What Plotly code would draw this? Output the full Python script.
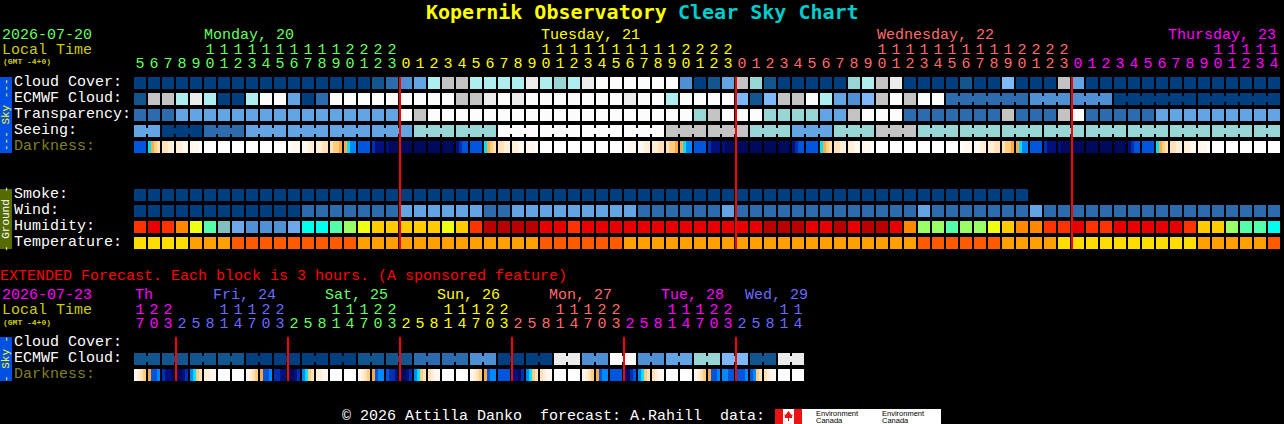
import plotly.graph_objects as go

# ---- chart values ----
DAY_LABELS = ["Monday, 20", "Tuesday, 21", "Wednesday, 22", "Thursday, 23"]
HOURS = [5, 6, 7, 8, 9, 10, 11, 12, 13, 14, 15, 16, 17, 18, 19, 20, 21, 22, 23,
         0, 1, 2, 3, 4, 5, 6, 7, 8, 9, 10, 11, 12, 13, 14, 15, 16, 17, 18, 19, 20, 21, 22, 23,
         0, 1, 2, 3, 4, 5, 6, 7, 8, 9, 10, 11, 12, 13, 14, 15, 16, 17, 18, 19, 20, 21, 22, 23,
         0, 1, 2, 3, 4, 5, 6, 7, 8, 9, 10, 11, 12, 13, 14]
DAY_OF_HOUR = [0] * 19 + [1] * 24 + [2] * 24 + [3] * 15

# cover in tenths, 0 = clear, 10 = overcast
CLOUD_COVER = [0, 0, 0, 0, 0, 0, 0, 0, 0, 0, 0, 0, 0, 0, 0, 0, 0, 1, 2,
               3, 4, 6, 8, 8, 6, 6, 6, 6, 9, 6, 7, 6, 9, 10, 10, 10, 10, 10, 10, 3, 0, 1, 4,
               8, 7, 1, 0, 0, 0, 0, 0, 7, 6, 8, 9, 0, 0, 0, 0, 1, 0, 0, 5, 0, 0, 0, 8,
               4, 0, 0, 0, 0, 0, 0, 0, 0, 0, 0, 0, 0, 0, 0]
ECMWF_HOURLY = [1, 8, 8, 6, 9, 6, 0, 0, 6, 10, 10, 4, 0, 2, 10, 10, 10, 10, 10,
                10, 10, 10, 10, 8, 8, 9, 10, 9, 10, 10, 10, 10, 10, 10, 10, 9, 10, 10, 6, 10, 10, 10, 10,
                5, 1, 5, 8, 8, 10, 6, 4, 3, 5, 8, 10, 8, 10, 10]
ECMWF_SPANS = [6, 3, 3, 6, 6]
ECMWF_SPAN_VALUES = [2, 3, 3, 0, 0]
TRANSPARENCY = [2, 2, 2, 4, 4, 4, 4, 4, 4, 4, 4, 4, 4, 4, 4, 4, 4, 4, 4,
                10, 8, 10, 10, 10, 10, 10, 10, 10, 10, 10, 10, 10, 10, 10, 10, 10, 10, 10, 10, 10, 7, 8, 10,
                10, 10, 7, 7, 7, 7, 4, 4, 8, 10, 10, 10, 2, 2, 2, 2, 2, 2, 2, 8, 2, 2, 2, 8,
                10, 2, 2, 2, 2, 2, 4, 4, 4, 4, 4, 4, 4, 4, 4]
SEEING_SPANS = [2, 3, 3, 3, 3, 3, 3, 3, 3, 3, 3, 3, 3, 3, 3, 3, 3, 3, 3, 3, 3, 3, 3, 3, 3, 3, 3, 2]
SEEING_VALUES = [4, 0, 2, 4, 4, 4, 4, 7, 7, 10, 10, 10, 10, 8, 8, 7, 4, 7, 8, 7, 7, 7, 7, 7, 7, 7, 7, 7]
SMOKE = [0] * 64
WIND = [0, 0, 0, 0, 0, 0, 0, 0, 0, 0, 0, 0, 2, 2, 2, 2, 2, 2, 2,
        4, 4, 4, 4, 4, 4, 2, 2, 4, 4, 4, 4, 4, 4, 4, 4, 4, 2, 2, 2, 2, 2, 2, 4,
        2, 2, 2, 2, 2, 2, 2, 2, 2, 2, 2, 2, 2, 4, 2, 2, 2, 2, 2, 2, 2, 4, 2, 2,
        2, 2, 2, 2, 2, 2, 2, 2, 2, 2, 2, 2, 2, 2, 2]
# humidity percent
HUMIDITY = [85, 90, 85, 80, 60, 50, 40, 30, 25, 25, 25, 30, 45, 45, 50, 55, 60, 70, 70,
            70, 70, 70, 60, 70, 85, 95, 95, 95, 95, 90, 90, 85, 90, 90, 90, 90, 90, 90, 90, 90, 90, 90, 90,
            90, 90, 95, 95, 95, 90, 90, 95, 90, 95, 95, 90, 80, 55, 55, 50, 55, 55, 60, 70, 80,
            80, 85, 85, 90, 85, 85, 90, 90, 90, 90, 90, 85, 70, 70, 55, 50, 50, 45]
# temperature in degrees C
TEMPERATURE = [16, 16, 16, 16, 19, 19, 19, 21, 21, 21, 21, 21, 21, 21, 21, 21, 19, 19, 19,
               19, 19, 19, 19, 19, 19, 19, 19, 19, 19, 21, 21, 21, 21, 21, 21, 19, 19, 19, 19, 19, 19, 19, 19,
               19, 19, 19, 19, 19, 19, 19, 19, 19, 19, 19, 19, 19, 21, 21, 21, 21, 21, 21, 19, 19,
               19, 19, 16, 16, 16, 16, 16, 16, 16, 16, 16, 16, 19, 19, 19, 19, 19, 21]
# 0 white noon ... 11 darkest night, four readings across each block
DARKNESS = [
    [8, 8, 8, 8], [6, 5, 4, 3], [3, 3, 2, 2], [2, 2, 1, 1], [1, 1, 1, 0], [0, 0, 0, 0], [0, 0, 0, 0],
    [0, 0, 0, 0], [0, 0, 0, 0], [0, 0, 0, 0], [0, 0, 0, 0], [0, 1, 1, 1], [1, 1, 2, 2], [2, 2, 3, 3],
    [3, 4, 4, 5], [5, 6, 7, 7], [8, 8, 8, 8], [9, 10, 10, 10], [10, 11, 11, 11],
    [11, 11, 11, 11], [11, 11, 11, 11], [11, 11, 11, 11], [11, 11, 11, 11], [10, 9, 8, 8], [8, 8, 8, 8],
    [6, 5, 4, 3], [3, 3, 2, 2], [2, 2, 1, 1], [1, 1, 1, 0], [0, 0, 0, 0], [0, 0, 0, 0], [0, 0, 0, 0],
    [0, 0, 0, 0], [0, 0, 0, 0], [0, 0, 0, 0], [0, 1, 1, 1], [1, 1, 2, 2], [2, 2, 3, 3], [3, 4, 4, 5],
    [5, 6, 7, 7], [8, 8, 8, 8], [9, 10, 10, 10], [10, 11, 11, 11],
    [11, 11, 11, 11], [11, 11, 11, 11], [11, 11, 11, 11], [11, 11, 11, 11], [10, 9, 8, 8], [8, 8, 8, 8],
    [6, 5, 4, 3], [3, 3, 2, 2], [2, 2, 1, 1], [1, 1, 1, 0], [0, 0, 0, 0], [0, 0, 0, 0], [0, 0, 0, 0],
    [0, 0, 0, 0], [0, 0, 0, 0], [0, 0, 0, 0], [0, 1, 1, 1], [1, 1, 2, 2], [2, 2, 3, 3], [3, 4, 4, 5],
    [5, 6, 7, 7], [8, 8, 8, 8], [9, 10, 10, 10], [10, 11, 11, 11],
    [11, 11, 11, 11], [11, 11, 11, 11], [11, 11, 11, 11], [11, 11, 11, 11], [10, 9, 8, 8], [8, 8, 8, 8],
    [6, 5, 4, 3], [3, 3, 2, 2], [2, 2, 1, 1], [1, 1, 1, 0], [0, 0, 0, 0], [0, 0, 0, 0], [0, 0, 0, 0],
    [0, 0, 0, 0], [0, 0, 0, 0],
]
MIDNIGHTS = [19, 43, 67]

# extended forecast, one block is 3 hours
EXT_DAY_LABELS = ["Th", "Fri, 24", "Sat, 25", "Sun, 26", "Mon, 27", "Tue, 28", "Wed, 29"]
EXT_HOURS = [17, 20, 23,
             2, 5, 8, 11, 14, 17, 20, 23,
             2, 5, 8, 11, 14, 17, 20, 23,
             2, 5, 8, 11, 14, 17, 20, 23,
             2, 5, 8, 11, 14, 17, 20, 23,
             2, 5, 8, 11, 14, 17, 20, 23,
             2, 5, 8, 11, 14]
EXT_DAY_OF_HOUR = [0] * 3 + [1] * 8 + [2] * 8 + [3] * 8 + [4] * 8 + [5] * 8 + [6] * 5
EXT_ECMWF_SPANS = [2] * 24
EXT_ECMWF_VALUES = [1, 1, 1, 1, 0, 0, 0, 0, 1, 1, 2, 2, 3, 0, 0, 9, 3, 10, 3, 4, 7, 5, 1, 9]
EXT_DARKNESS = [
    [1, 2, 3, 4], [5, 8, 8, 7], [9, 10, 10, 11], [11, 11, 10, 9], [7, 6, 4, 3], [2, 2, 1, 1], [0, 0, 0, 0], [0, 0, 0, 0],
    [1, 2, 3, 4], [5, 8, 8, 7], [9, 9, 10, 10], [11, 11, 10, 9], [7, 6, 4, 3], [2, 2, 1, 1], [0, 0, 0, 0], [0, 0, 0, 0],
    [1, 2, 3, 4], [5, 8, 7, 7], [8, 9, 9, 10], [11, 11, 10, 9], [7, 6, 4, 3], [3, 2, 1, 1], [0, 0, 0, 0], [0, 0, 0, 0],
    [1, 2, 3, 4], [5, 8, 7, 7], [8, 8, 8, 8], [10, 10, 11, 9], [7, 6, 4, 3], [3, 2, 1, 1], [0, 0, 0, 0], [0, 0, 0, 0],
    [1, 2, 3, 4], [5, 8, 7, 7], [8, 8, 8, 8], [10, 11, 9, 8], [7, 6, 4, 3], [3, 2, 1, 1], [0, 0, 0, 0], [0, 0, 0, 0],
    [1, 2, 3, 4], [5, 8, 8, 7], [7, 7, 8, 8], [8, 8, 8, 7], [8, 7, 4, 3], [3, 2, 1, 1], [0, 0, 0, 0], [0, 0, 0, 0],
]
EXT_MIDNIGHTS = [3, 11, 19, 27, 35, 43]

# ---- colours and geometry ----
W, H = 1284, 424
PITCH = 14.0
BLOCK = 12.0
LEFT = 134.0
MONO = "Liberation Mono"
TITLE_FONT = "DejaVu Sans Mono"

SKY_COLORS = {0: "#003F7F", 1: "#13558F", 2: "#2C6CAE", 3: "#4F8FD3", 4: "#63A4E5", 5: "#7DB8FB",
              6: "#AFEEEE", 7: "#98D6D6", 8: "#C3C3C3", 9: "#EBEBEB", 10: "#FCFCFC"}
HUMIDITY_COLORS = {25: "#5090D5", 30: "#6FA8E8", 40: "#80BFBF", 45: "#00FFEE", 50: "#55FFAA", 55: "#99FF66",
                   60: "#EEFF11", 70: "#FFCC00", 80: "#FF8800", 85: "#FF3300", 90: "#E80000", 95: "#B80000"}
TEMP_COLORS = {16: "#FFDD00", 19: "#FF9F00", 21: "#FF5A00"}
DARK_COLORS = {0: "#FFFFFF", 1: "#FFF8EE", 2: "#FFEFD8", 3: "#FFE2B8", 4: "#FFCC80", 5: "#FFAA44",
               6: "#00E0FF", 7: "#0088FF", 8: "#0055DD", 9: "#0030B0", 10: "#00107F", 11: "#000A5C"}
DAY_COLORS = ["#66FF66", "#FFFF00", "#FF6B6B", "#FF00FF"]
EXT_DAY_COLORS = ["#FF00FF", "#6A6AFF", "#66FF66", "#FFFF00", "#FF6B6B", "#FF00FF", "#6A6AFF"]

fig = go.Figure()


def add_blocks(values, palette, top, start=0):
    xs = [start + i + BLOCK / PITCH / 2 for i in range(len(values))]
    fig.add_trace(go.Bar(x=xs, y=[BLOCK] * len(values), base=[top] * len(values), width=BLOCK / PITCH,
                         marker=dict(color=[palette[v] for v in values], line_width=0)))


def add_spans(spans, values, palette, top, start=0):
    """Blocks that belong together get a small bridge over the gap."""
    cell_vals = []
    bridge_x, bridge_c = [], []
    pos = start
    for n, v in zip(spans, values):
        cell_vals += [v] * n
        for k in range(1, n):
            bridge_x.append(pos + k - 1 / PITCH)
            bridge_c.append(palette[v])
        pos += n
    add_blocks(cell_vals, palette, top, start)
    fig.add_trace(go.Bar(x=bridge_x, y=[6] * len(bridge_x), base=[top + 3] * len(bridge_x), width=2 / PITCH,
                         marker=dict(color=bridge_c, line_width=0)))


def add_darkness(blocks, top):
    xs, cs = [], []
    for i, block in enumerate(blocks):
        for j, level in enumerate(block):
            xs.append(i + (j + 0.5) * 3 / PITCH)
            cs.append(DARK_COLORS[level])
    fig.add_trace(go.Bar(x=xs, y=[BLOCK] * len(xs), base=[top] * len(xs), width=3 / PITCH,
                         marker=dict(color=cs, line_width=0)))


def add_hour_text(hours, days, colors, y_tens, y_ones):
    xs = [i + BLOCK / PITCH / 2 for i in range(len(hours))]
    cs = [colors[d] for d in days]
    tens = [str(h // 10) if h >= 10 else "" for h in hours]
    ones = [str(h % 10) for h in hours]
    for txt, y in ((tens, y_tens), (ones, y_ones)):
        fig.add_trace(go.Scatter(x=xs, y=[y] * len(xs), mode="text", text=txt,
                                 textposition="middle center",
                                 textfont=dict(family=MONO, size=15, color=cs)))


def add_midnights(where, y0, y1):
    xs, ys = [], []
    for m in where:
        xs += [m, m, None]
        ys += [y0, y1, None]
    fig.add_trace(go.Scatter(x=xs, y=ys, mode="lines", line=dict(color="#FF0000", width=2)))


# main chart
add_blocks(CLOUD_COVER, SKY_COLORS, 77)
add_blocks(ECMWF_HOURLY, SKY_COLORS, 93)
add_spans(ECMWF_SPANS, ECMWF_SPAN_VALUES, SKY_COLORS, 93, start=len(ECMWF_HOURLY))
add_blocks(TRANSPARENCY, SKY_COLORS, 109)
add_spans(SEEING_SPANS, SEEING_VALUES, SKY_COLORS, 125)
add_darkness(DARKNESS, 141)
add_blocks(SMOKE, SKY_COLORS, 189)
add_blocks(WIND, SKY_COLORS, 205)
add_blocks(HUMIDITY, HUMIDITY_COLORS, 221)
add_blocks(TEMPERATURE, TEMP_COLORS, 237)
add_hour_text(HOURS, DAY_OF_HOUR, DAY_COLORS, 50, 64)
add_midnights(MIDNIGHTS, 77, 249)

# extended chart
add_spans(EXT_ECMWF_SPANS, EXT_ECMWF_VALUES, SKY_COLORS, 353)
add_darkness(EXT_DARKNESS, 369)
add_hour_text(EXT_HOURS, EXT_DAY_OF_HOUR, EXT_DAY_COLORS, 310, 324)
add_midnights(EXT_MIDNIGHTS, 337, 381)


def label(x, y, text, color="#FFFFFF", size=15, bold=False, family=MONO, angle=0, anchor="left"):
    if bold:
        text = "<b>" + text + "</b>"
    fig.add_annotation(x=x / W, y=y, xref="paper", yref="y", text=text, showarrow=False,
                       xanchor=anchor, yanchor="middle", borderpad=0, textangle=angle,
                       font=dict(family=family, size=size, color=color))


label(425, 12, "Kopernik Observatory", "#FFFF00", 20, True, family=TITLE_FONT)
label(677, 12, "Clear Sky Chart", "#00CCCC", 20, True, family=TITLE_FONT)

label(1, 35, "2026-07-20", DAY_COLORS[0])
label(1, 50, "Local Time", "#CCCC00")
label(2, 61, "(GMT -4+0)", "#CCCC00", 8, True)
for x, txt, c in zip([203, 540, 876, 1167], DAY_LABELS, DAY_COLORS):
    label(x, 35, txt, c)

for y, txt in zip([82, 98, 114, 130], ["Cloud Cover:", "ECMWF Cloud:", "Transparency:", "Seeing:"]):
    label(13, y, txt)
label(13, 146, "Darkness:", "#808020")
for y, txt in zip([194, 210, 226, 242], ["Smoke:", "Wind:", "Humidity:", "Temperature:"]):
    label(13, y, txt)

label(-1, 276, "EXTENDED Forecast. Each block is 3 hours. (A sponsored feature)", "#FF0000")
label(1, 295, "2026-07-23", "#FF00FF")
label(1, 310, "Local Time", "#CCCC00")
label(2, 322, "(GMT -4+0)", "#CCCC00", 8, True)
for x, txt, c in zip([134, 212, 324, 436, 548, 660, 744], EXT_DAY_LABELS, EXT_DAY_COLORS):
    label(x, 295, txt, c)
label(13, 342, "Cloud Cover:")
label(13, 358, "ECMWF Cloud:")
label(13, 374, "Darkness:", "#808020")

label(341, 416, "© 2026 Attilla Danko  forecast: A.Rahill  data:", "#FFFFFF", 15)

# side tabs
shapes = [
    dict(type="rect", xref="paper", yref="y", x0=0, x1=12 / W, y0=77, y1=153, fillcolor="#0050E6", line_width=0),
    dict(type="rect", xref="paper", yref="y", x0=0, x1=12 / W, y0=189, y1=249, fillcolor="#556B00", line_width=0),
    dict(type="rect", xref="paper", yref="y", x0=0, x1=12 / W, y0=337, y1=381, fillcolor="#0050E6", line_width=0),
    # logo
    dict(type="rect", xref="paper", yref="y", x0=775 / W, x1=941 / W, y0=409, y1=424, fillcolor="#FFFFFF", line_width=0),
    dict(type="rect", xref="paper", yref="y", x0=775 / W, x1=783 / W, y0=409, y1=424, fillcolor="#EE1111", line_width=0),
    dict(type="rect", xref="paper", yref="y", x0=794 / W, x1=802 / W, y0=409, y1=424, fillcolor="#EE1111", line_width=0),
    dict(type="path", xref="paper", yref="y", line_width=0, fillcolor="#EE1111",
         path=f"M {788.5 / W} 411 L {791.5 / W} 415 L {792.5 / W} 414 L {792 / W} 418 L {789 / W} 418 "
              f"L {789 / W} 421 L {788 / W} 421 L {788 / W} 418 L {785 / W} 418 L {784.5 / W} 414 L {785.5 / W} 415 Z"),
]
label(6, 115, "--- Sky ---", "#FFFF00", 11, angle=-90, anchor="center")
label(6, 219, "- Ground -", "#FFFFFF", 11, angle=-90, anchor="center")
label(6, 359, "- Sky -", "#FFFF00", 11, angle=-90, anchor="center")
for x in (815, 881):
    label(x, 413, "Environment", "#000000", 7.5, family="Liberation Sans")
    label(x, 420, "Canada", "#000000", 7.5, family="Liberation Sans")

fig.update_layout(
    width=W, height=H, margin=dict(l=0, r=0, t=0, b=0),
    paper_bgcolor="#000000", plot_bgcolor="#000000",
    showlegend=False, barmode="overlay", shapes=shapes, hovermode=False,
    xaxis=dict(range=[-LEFT / PITCH, (W - LEFT) / PITCH], visible=False, fixedrange=True),
    yaxis=dict(range=[H, 0], visible=False, fixedrange=True),
)

fig.write_html("out.html", config=dict(displayModeBar=False),
               post_script="document.body.style.margin='0';document.body.style.background='#000';")
